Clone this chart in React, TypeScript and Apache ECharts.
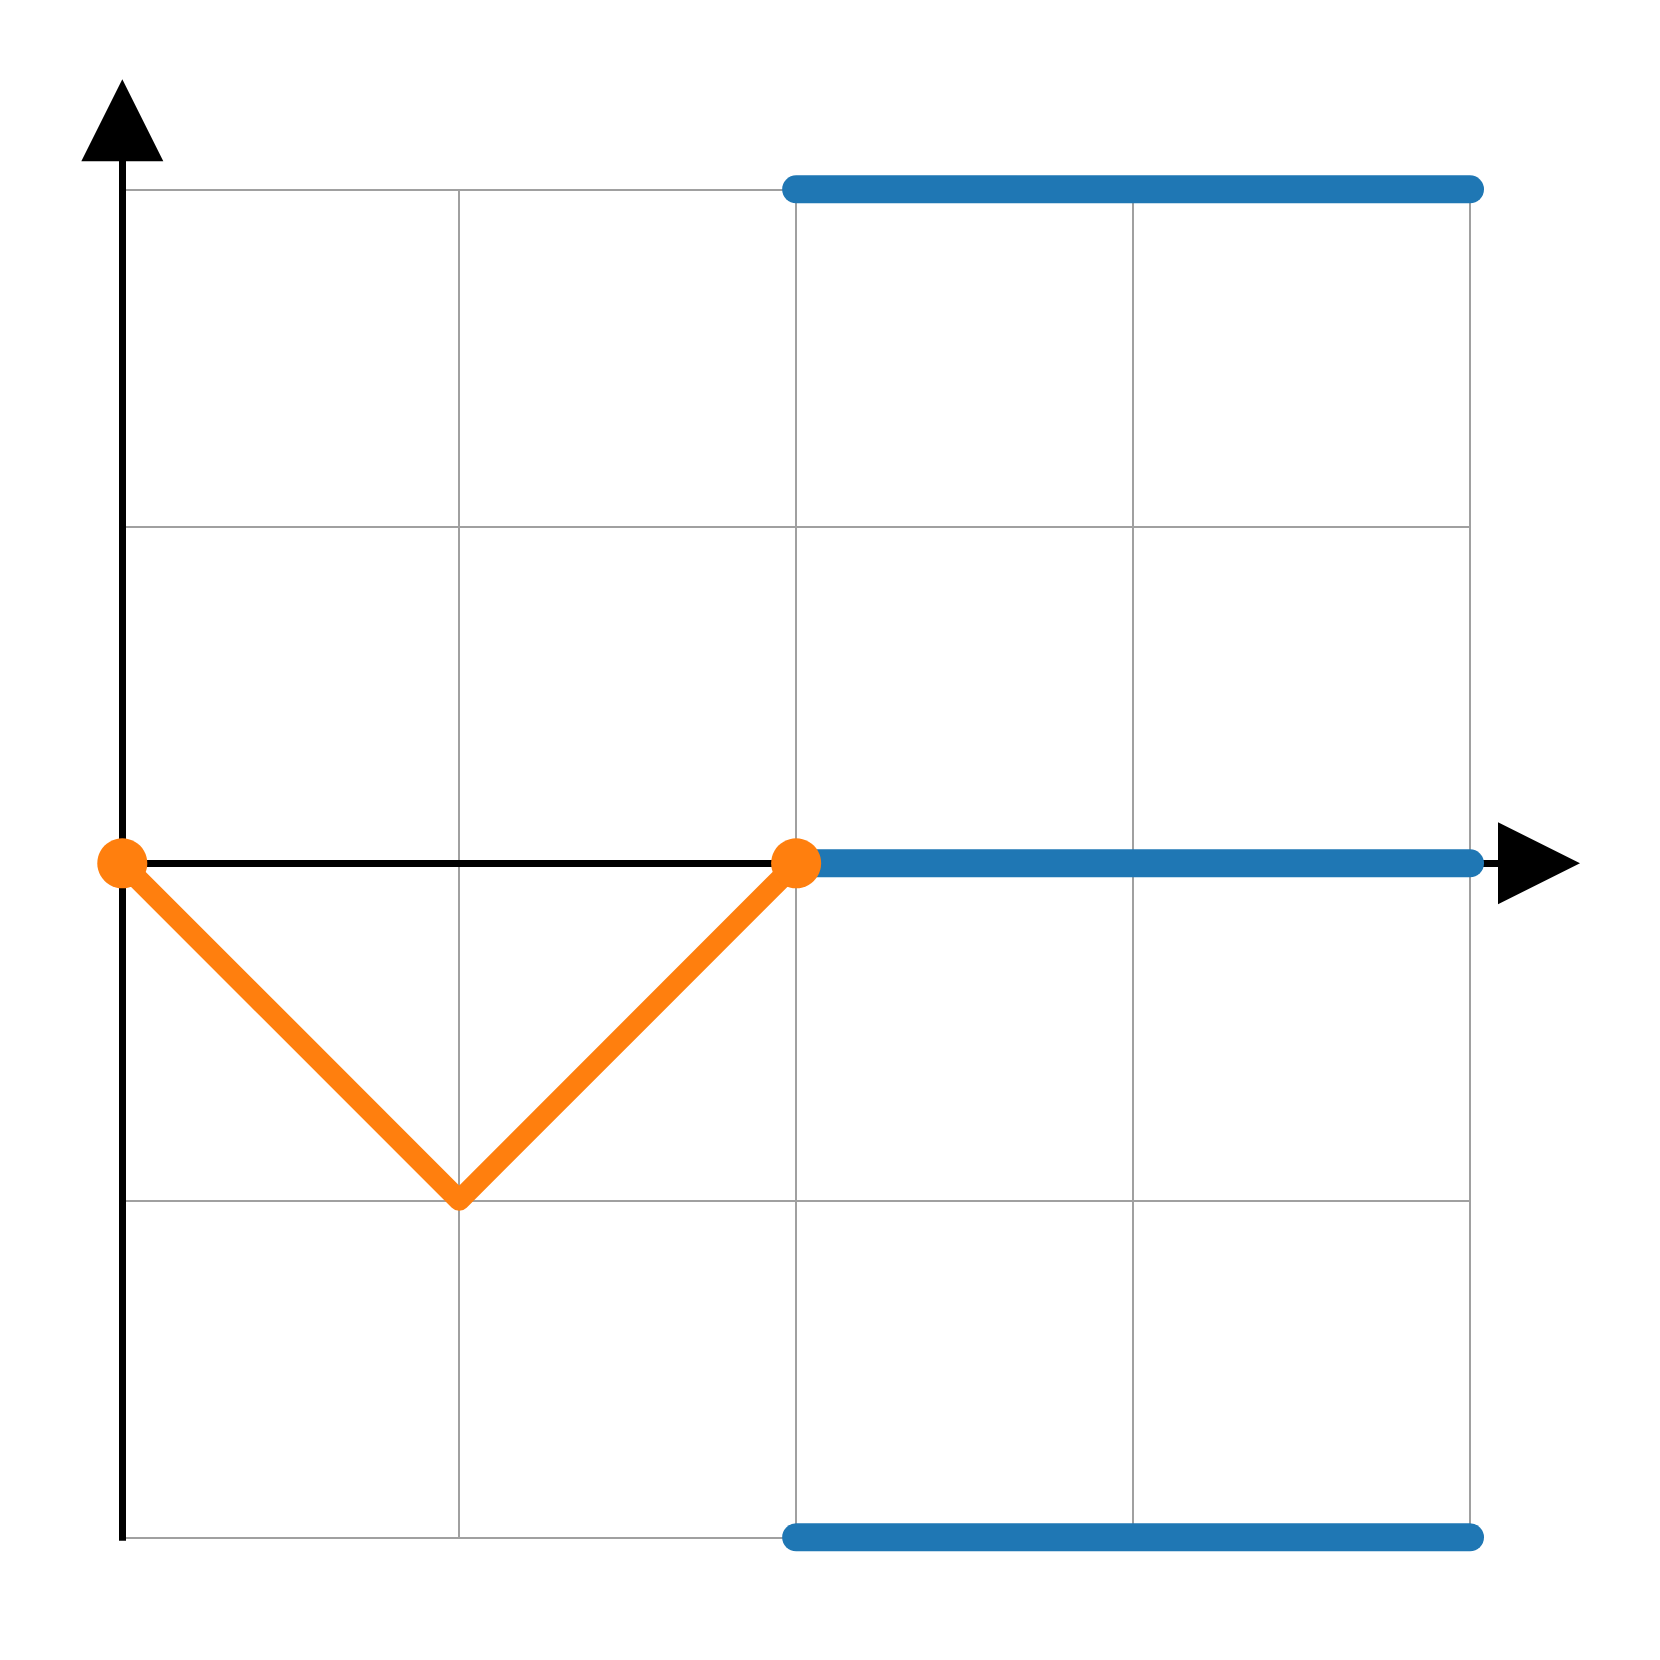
import React, { useEffect, useRef } from "react";
import * as echarts from "echarts";

const xRange = [0, 4];
const yRange = [-2, 2];
const tickStep = 1;
const blueSegments: number[][][] = [
  [[2, 2], [4, 2]],
  [[2, 0], [4, 0]],
  [[2, -2], [4, -2]],
];
const orangeLine: number[][] = [[0, 0], [1, -1], [2, 0]];
const orangeMarkers: number[][] = [[0, 0], [2, 0]];

const BLUE = "#1f77b4";
const ORANGE = "#ff7f0e";
const GRIDC = "#a0a0a0";

export default function App() {
  const ref = useRef<HTMLDivElement>(null);
  useEffect(() => {
    if (!ref.current) return;
    const chart = echarts.init(ref.current, undefined, { renderer: "svg" });
    const left = 122.3;
    const top = 189.3;
    const w = 1347.7;
    const h = 1348;
    const unitX = w / (xRange[1] - xRange[0]);
    const unitY = h / (yRange[1] - yRange[0]);
    const extPx = 28;
    const arrow = 82;
    const hidden = { show: false };
    const option: any = {
      animation: false,
      backgroundColor: "#ffffff",
      grid: [
        { left, top, width: w, height: h },
        { left, top: top - extPx, width: w + extPx, height: h + extPx },
      ],
      xAxis: [
        {
          type: "value",
          gridIndex: 0,
          min: xRange[0],
          max: xRange[1],
          interval: tickStep,
          axisLine: hidden,
          axisTick: hidden,
          axisLabel: hidden,
          splitLine: { show: true, lineStyle: { color: GRIDC, width: 2 } },
        },
        {
          type: "value",
          gridIndex: 1,
          min: xRange[0],
          max: xRange[1] + extPx / unitX,
          axisTick: hidden,
          axisLabel: hidden,
          splitLine: hidden,
          axisLine: {
            show: true,
            onZero: true,
            symbol: ["none", "triangle"],
            symbolSize: [arrow, arrow],
            symbolOffset: [0, arrow / 2],
            lineStyle: { color: "#000", width: 7, cap: "square" },
          },
        },
      ],
      yAxis: [
        {
          type: "value",
          gridIndex: 0,
          min: yRange[0],
          max: yRange[1],
          interval: tickStep,
          axisLine: hidden,
          axisTick: hidden,
          axisLabel: hidden,
          splitLine: { show: true, lineStyle: { color: GRIDC, width: 2 } },
        },
        {
          type: "value",
          gridIndex: 1,
          min: yRange[0],
          max: yRange[1] + extPx / unitY,
          axisTick: hidden,
          axisLabel: hidden,
          splitLine: hidden,
          axisLine: {
            show: true,
            onZero: true,
            symbol: ["none", "triangle"],
            symbolSize: [arrow, arrow],
            symbolOffset: [0, arrow / 2],
            lineStyle: { color: "#000", width: 7, cap: "square" },
          },
        },
      ],
      series: [
        ...blueSegments.map((seg) => ({
          type: "line",
          xAxisIndex: 0,
          yAxisIndex: 0,
          data: seg,
          showSymbol: false,
          clip: false,
          z: 3,
          lineStyle: { color: BLUE, width: 28, cap: "round" },
        })),
        {
          type: "line",
          xAxisIndex: 0,
          yAxisIndex: 0,
          data: orangeLine,
          showSymbol: false,
          clip: false,
          z: 4,
          lineStyle: { color: ORANGE, width: 21, cap: "round", join: "round" },
        },
        {
          type: "scatter",
          xAxisIndex: 0,
          yAxisIndex: 0,
          data: orangeMarkers,
          symbol: "circle",
          symbolSize: 50,
          clip: false,
          z: 5,
          itemStyle: { color: ORANGE, opacity: 1 },
        },
      ],
    };
    chart.setOption(option);
    return () => chart.dispose();
  }, []);
  return (
    <div
      ref={ref}
      style={{ position: "absolute", left: 0, top: 0, width: 1660, height: 1660 }}
    />
  );
}
